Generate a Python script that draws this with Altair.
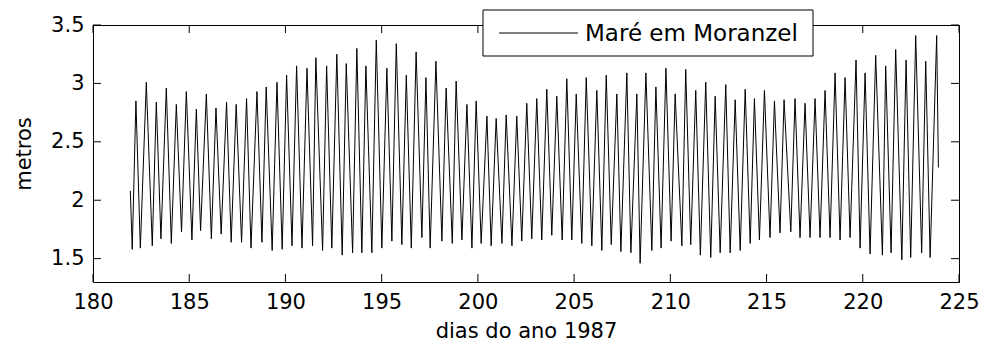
import altair as alt
import pandas as pd

# ---- data (time of each high / low water, level in m) ----
dias = [
    181.94, 182.04, 182.23, 182.46, 182.77, 183.08, 183.29, 183.53, 183.81, 184.07,
    184.33, 184.60, 184.85, 185.14, 185.37, 185.59,
    185.89, 186.15, 186.39, 186.66, 186.94, 187.18, 187.44, 187.72, 187.98, 188.21,
    188.52, 188.78, 189.00, 189.31, 189.56, 189.83, 190.06, 190.34, 190.58, 190.86,
    191.12, 191.41,
    191.58, 191.93, 192.14, 192.41, 192.67, 192.95, 193.16, 193.49, 193.71, 193.97,
    194.18, 194.49, 194.72, 195.01, 195.27, 195.53, 195.76, 196.05, 196.28, 196.54,
    196.79, 197.09,
    197.30, 197.52, 197.82, 198.13, 198.35, 198.67, 198.87, 199.17, 199.43, 199.69,
    199.91, 200.17, 200.47, 200.69, 200.95, 201.25, 201.47, 201.77, 202.02, 202.28,
    202.54, 202.80,
    203.06, 203.32, 203.58, 203.84, 204.10, 204.38, 204.62, 204.88, 205.11, 205.40,
    205.63, 205.92, 206.18, 206.44, 206.67, 206.93, 207.22, 207.43, 207.74, 207.95,
    208.26, 208.43,
    208.73, 209.04, 209.25, 209.52, 209.77, 210.04, 210.25, 210.60, 210.80, 211.06,
    211.32, 211.56, 211.84, 212.10, 212.33, 212.59, 212.88, 213.11, 213.37, 213.63,
    213.89, 214.15,
    214.37, 214.63, 214.89, 215.18, 215.41, 215.70, 215.91, 216.26, 216.48, 216.74,
    217.00, 217.26, 217.52, 217.78, 218.04, 218.30, 218.56, 218.82, 219.08, 219.34,
    219.65, 219.86,
    220.12, 220.38, 220.67, 221.02, 221.19, 221.47, 221.71, 222.03, 222.25, 222.49,
    222.75, 223.06, 223.27, 223.50, 223.84, 223.93,
]

nivel = [
    2.08, 1.58, 2.85, 1.59, 3.01, 1.61, 2.84, 1.67, 2.96, 1.63, 2.82, 1.73, 2.93, 1.66, 2.78, 1.74,
    2.91, 1.67, 2.79, 1.71, 2.84, 1.64, 2.82, 1.64, 2.87, 1.59, 2.93, 1.64, 2.97, 1.57, 3.01, 1.58,
    3.07, 1.61, 3.15, 1.59, 3.13, 1.61,
    3.22, 1.57, 3.15, 1.59, 3.25, 1.53, 3.17, 1.55, 3.30, 1.55, 3.15, 1.55, 3.37, 1.59, 3.13, 1.65,
    3.34, 1.62, 3.07, 1.59, 3.27, 1.68,
    3.05, 1.59, 3.19, 1.65, 2.96, 1.63, 3.02, 1.66, 2.82, 1.59, 2.85, 1.63, 2.72, 1.61, 2.70, 1.63,
    2.73, 1.61, 2.72, 1.65, 2.83, 1.67,
    2.87, 1.66, 2.95, 1.70, 2.89, 1.66, 3.04, 1.66, 2.91, 1.63, 3.05, 1.61, 2.94, 1.57, 3.07, 1.62,
    2.91, 1.56, 3.09, 1.55, 2.91, 1.46,
    3.09, 1.57, 2.97, 1.59, 3.13, 1.65, 2.91, 1.61, 3.12, 1.62, 2.94, 1.53, 3.01, 1.51, 2.89, 1.55,
    2.99, 1.55, 2.86, 1.57, 2.95, 1.63,
    2.87, 1.66, 2.94, 1.68, 2.85, 1.72, 2.86, 1.73, 2.87, 1.68, 2.83, 1.68, 2.87, 1.68, 2.94, 1.68,
    3.09, 1.66, 3.05, 1.68, 3.20, 1.59,
    3.09, 1.54, 3.24, 1.53, 3.15, 1.55, 3.29, 1.49, 3.20, 1.51, 3.41, 1.55, 3.19, 1.51, 3.41, 2.28,
]

serie = "Maré em Moranzel"
x_ticks = [180, 185, 190, 195, 200, 205, 210, 215, 220, 225]
y_ticks = [1.5, 2.0, 2.5, 3.0, 3.5]
x_domain = [180, 225]
y_domain = [1.3, 3.5]

# ---- layout ----
W, H = 866, 257
TICK = 8
FONT = "DejaVu Sans"

df = pd.DataFrame({"dia": dias, "nivel": nivel})
xt = pd.DataFrame({"dia": x_ticks})
yt = pd.DataFrame({"nivel": y_ticks})
leg = pd.DataFrame({"serie": [serie]})

xscale = alt.Scale(domain=x_domain, nice=False, zero=False)
yscale = alt.Scale(domain=y_domain, nice=False, zero=False)
x_axis = alt.Axis(values=x_ticks, title="dias do ano 1987", labelFlush=False,
                  labelPadding=9, titlePadding=8, labelOverlap=False)
y_axis = alt.Axis(values=y_ticks, format="~g", title="metros", labelFlush=False,
                  labelPadding=9, titlePadding=16, labelOverlap=False)

X = alt.X("dia:Q", scale=xscale, axis=x_axis)
Y = alt.Y("nivel:Q", scale=yscale, axis=y_axis)

line = alt.Chart(df).mark_line(strokeWidth=1, color="black", clip=True).encode(x=X, y=Y)

tick_bottom = alt.Chart(xt).mark_rule(color="black", strokeWidth=1).encode(
    x=X, y=alt.value(H - TICK), y2=alt.value(H))
tick_top = alt.Chart(xt).mark_rule(color="black", strokeWidth=1).encode(
    x=X, y=alt.value(0), y2=alt.value(TICK))
tick_left = alt.Chart(yt).mark_rule(color="black", strokeWidth=1).encode(
    y=Y, x=alt.value(0), x2=alt.value(TICK))
tick_right = alt.Chart(yt).mark_rule(color="black", strokeWidth=1).encode(
    y=Y, x=alt.value(W - TICK), x2=alt.value(W))

# legend box (drawn by hand so that it matches the reference's box)
leg_box = alt.Chart(leg).mark_rect(fill="white", stroke="black", strokeWidth=1).encode(
    x=alt.value(390), x2=alt.value(720), y=alt.value(-15), y2=alt.value(31))
leg_line = alt.Chart(leg).mark_rule(color="black", strokeWidth=1).encode(
    x=alt.value(406), x2=alt.value(485), y=alt.value(8))
leg_text = alt.Chart(leg).mark_text(align="left", baseline="middle", font=FONT,
                                    fontSize=23, color="black").encode(
    x=alt.value(492), y=alt.value(9), text="serie:N")

chart = alt.layer(line, tick_bottom, tick_top, tick_left, tick_right,
                  leg_box, leg_line, leg_text).properties(
    width=W, height=H,
    autosize=alt.AutoSizeParams(type="none"),
    padding={"left": 93, "top": 25, "right": 27, "bottom": 67},
    background="white",
).configure_view(stroke="black", strokeWidth=1).configure_axis(
    domain=False, ticks=False, grid=False,
    labelFont=FONT, labelFontSize=21, labelColor="black",
    titleFont=FONT, titleFontSize=21, titleFontWeight="normal", titleColor="black",
)

chart.save("out.html", embed_options={"renderer": "svg", "actions": False})
